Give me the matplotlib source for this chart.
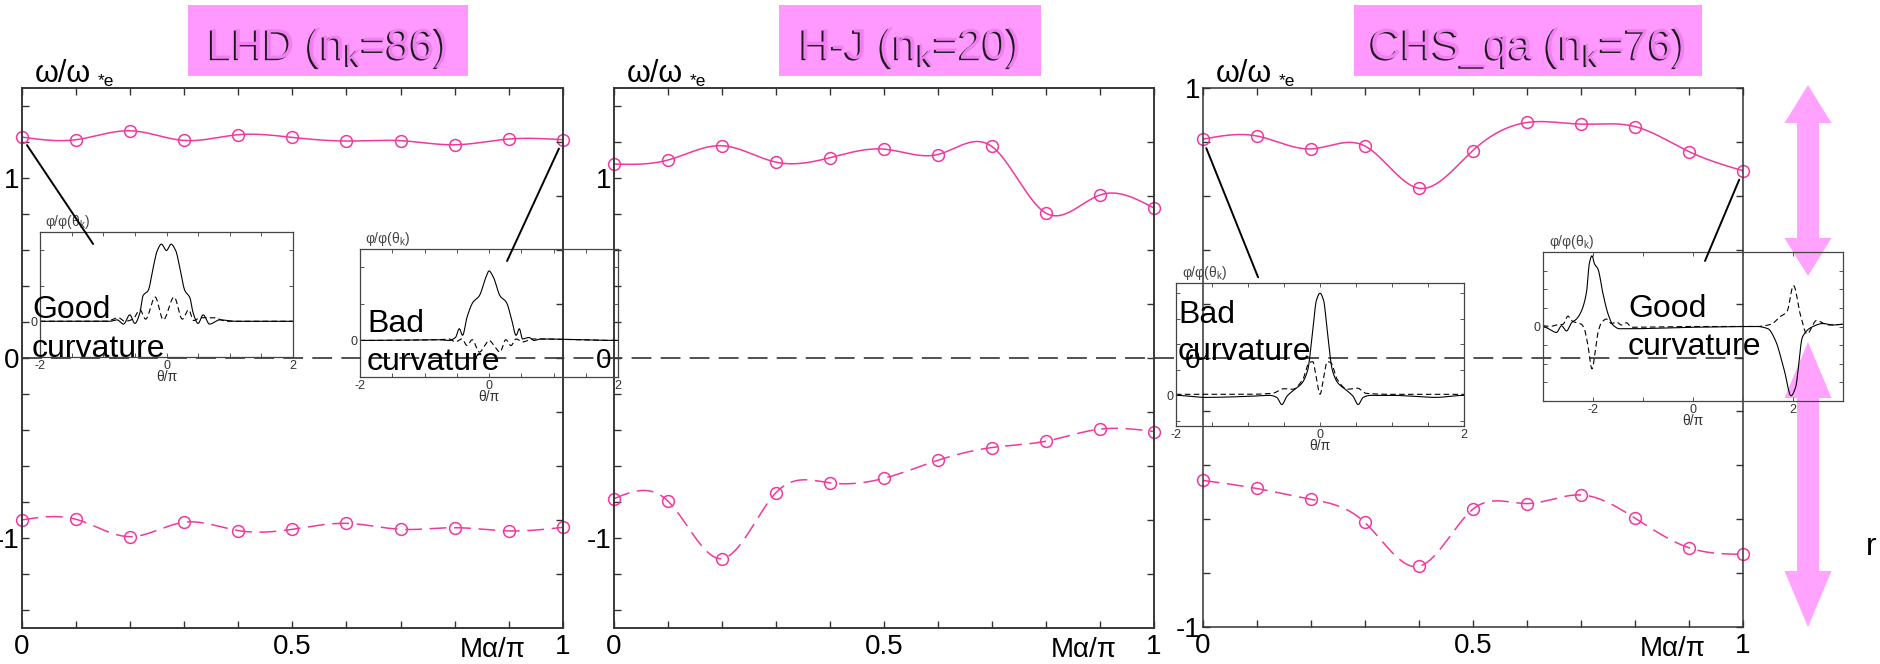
import numpy as np
import matplotlib
matplotlib.use('Agg')
import matplotlib.pyplot as plt
import matplotlib.patheffects as pe
from matplotlib.patches import Rectangle, Polygon, ConnectionPatch
from matplotlib.ticker import FixedLocator, FuncFormatter, NullFormatter

plt.rcParams['font.family'] = ['Liberation Sans', 'DejaVu Sans']
plt.rcParams['mathtext.default'] = 'regular'

# ---- main curves: omega / omega*e versus M alpha / pi ----
m_alpha = [0.0, 0.1, 0.2, 0.3, 0.4, 0.5, 0.6, 0.7, 0.8, 0.9, 1.0]

lhd_upper = [1.226, 1.211, 1.261, 1.207, 1.239, 1.224, 1.204, 1.206, 1.183, 1.215, 1.211]
lhd_lower = [-0.900, -0.896, -0.993, -0.913, -0.959, -0.952, -0.919, -0.952, -0.943, -0.961, -0.941]
hj_upper = [1.076, 1.098, 1.178, 1.087, 1.111, 1.159, 1.129, 1.174, 0.804, 0.904, 0.832]
hj_lower = [-0.783, -0.794, -1.115, -0.750, -0.694, -0.669, -0.569, -0.498, -0.463, -0.396, -0.409]
chs_upper = [0.810, 0.822, 0.774, 0.785, 0.628, 0.768, 0.872, 0.866, 0.857, 0.764, 0.693]
chs_lower = [-0.456, -0.486, -0.526, -0.612, -0.775, -0.563, -0.542, -0.510, -0.596, -0.706, -0.730]

titles = ['LHD (n$_k$=86)', 'H-J (n$_k$=20)', 'CHS_qa (n$_k$=76)']

# ---- inset eigenfunctions phi/phi(theta_k) versus theta/pi ----
lhd_good_th = [-2.0, -1.2, -0.9, -0.78, -0.68, -0.58, -0.5, -0.42, -0.37, -0.29, -0.21, -0.15, -0.08, 0.0,
               0.07, 0.15, 0.21, 0.29, 0.37, 0.42, 0.5, 0.58, 0.68, 0.84, 1.1, 2.0]
lhd_good_solid = [0.0, 0.0, 0.0, 0.02, -0.04, 0.09, -0.03, 0.12, 0.36, 0.43, 0.75, 0.98, 1.08, 0.99,
                  1.08, 0.98, 0.75, 0.43, 0.33, 0.12, -0.03, 0.09, -0.04, 0.02, 0.0, 0.0]
lhd_good_dth = [-2.0, -0.95, -0.76, -0.66, -0.53, -0.42, -0.33, -0.18, -0.05, 0.12, 0.25, 0.35, 0.43,
                0.53, 0.74, 0.95, 2.0]
lhd_good_dash = [0.0, 0.0, 0.05, 0.0, 0.03, 0.16, 0.03, 0.34, 0.02, 0.34, 0.03, 0.16, 0.01,
                 0.05, 0.05, 0.0, 0.0]

lhd_bad_th = [-2.0, -0.8, -0.62, -0.52, -0.46, -0.41, -0.34, -0.25, -0.15, -0.05, 0.0, 0.07, 0.17,
              0.27, 0.35, 0.42, 0.47, 0.52, 0.62, 0.7, 0.8, 2.0]
lhd_bad_solid = [0.0, 0.01, 0.0, 0.04, 0.16, 0.07, 0.32, 0.52, 0.61, 0.86, 0.95, 0.86, 0.61,
                 0.52, 0.29, 0.07, 0.16, 0.02, 0.04, 0.0, 0.02, 0.0]
lhd_bad_dth = [-2.0, -0.78, -0.62, -0.52, -0.42, -0.34, -0.26, -0.15, -0.05, 0.0, 0.08, 0.17, 0.26,
               0.34, 0.42, 0.52, 0.68, 2.0]
lhd_bad_dash = [0.0, 0.01, 0.02, -0.02, 0.02, -0.07, 0.01, -0.16, -0.05, 0.0, -0.07, -0.16, 0.01,
                -0.07, 0.02, -0.02, 0.02, 0.0]

chs_bad_th = [-2.0, -1.6, -1.0, -0.7, -0.6, -0.53, -0.46, -0.35, -0.25, -0.17, -0.1, -0.05, 0.0,
              0.05, 0.1, 0.17, 0.25, 0.35, 0.46, 0.53, 0.6, 0.7, 1.0, 1.6, 2.0]
chs_bad_solid = [0.0, -0.02, -0.01, 0.0, -0.02, -0.09, -0.01, 0.06, 0.12, 0.25, 0.64, 0.93, 1.0,
                 0.93, 0.64, 0.25, 0.12, 0.06, -0.01, -0.09, -0.02, 0.0, 0.0, -0.02, 0.0]
chs_bad_dth = [-2.0, -1.0, -0.66, -0.5, -0.38, -0.24, -0.15, -0.1, -0.055, 0.0, 0.055, 0.1, 0.15,
               0.24, 0.38, 0.52, 0.64, 1.0, 2.0]
chs_bad_dash = [0.01, 0.01, 0.02, 0.065, 0.06, 0.155, 0.32, 0.33, 0.19, 0.01, 0.19, 0.33, 0.32,
                0.155, 0.06, 0.07, 0.02, 0.01, 0.01]

chs_good_th = [-3.0, -2.89, -2.73, -2.63, -2.53, -2.43, -2.33, -2.23, -2.13, -2.07, -2.02, -1.97,
               -1.9, -1.8, -1.7, -1.6, -1.47, -1.27, 0.0, 1.28, 1.5, 1.65, 1.83, 1.96, 2.05, 2.19,
               2.37, 2.6, 2.8, 3.0]
chs_good_solid = [0.0, -0.03, -0.08, 0.01, -0.06, 0.05, 0.1, 0.21, 0.46, 0.86, 0.95, 0.84,
                  0.77, 0.44, 0.17, 0.02, -0.03, -0.03, -0.01, 0.0, -0.03, -0.19, -0.6, -0.93,
                  -0.82, -0.14, -0.01, 0.04, 0.02, 0.03]
chs_good_dth = [-3.0, -2.86, -2.73, -2.6, -2.5, -2.43, -2.33, -2.23, -2.17, -2.1, -2.02, -1.95,
                -1.9, -1.83, -1.73, -1.63, -1.53, -1.43, -1.33, -1.23, 0.0, 1.28, 1.56, 1.74,
                1.88, 2.01, 2.15, 2.28, 2.47, 2.7, 3.0]
chs_good_dash = [0.01, 0.0, 0.02, 0.03, 0.14, 0.08, 0.05, 0.03, -0.04, -0.26, -0.57, -0.31,
                 -0.08, 0.05, 0.1, 0.04, 0.06, 0.02, 0.05, -0.01, 0.0, 0.0, 0.03, 0.13,
                 0.2, 0.55, 0.15, -0.1, 0.08, 0.02, 0.03]

PINK = '#ef3a9c'
BOX = '#ff99ff'
W, H = 1880, 664


def rect(x0, y0, x1, y1):
    return [x0 / W, 1 - y1 / H, (x1 - x0) / W, (y1 - y0) / H]


def natural_spline(x, y, num=300):
    x = np.asarray(x, float)
    y = np.asarray(y, float)
    n = len(x)
    h = np.diff(x)
    A = np.zeros((n, n))
    b = np.zeros(n)
    A[0, 0] = A[-1, -1] = 1
    for i in range(1, n - 1):
        A[i, i - 1] = h[i - 1]
        A[i, i] = 2 * (h[i - 1] + h[i])
        A[i, i + 1] = h[i]
        b[i] = 6 * ((y[i + 1] - y[i]) / h[i] - (y[i] - y[i - 1]) / h[i - 1])
    M = np.linalg.solve(A, b)
    xs = np.linspace(x[0], x[-1], num)
    k = np.clip(np.searchsorted(x, xs) - 1, 0, n - 2)
    hh = x[k + 1] - x[k]
    t0 = x[k + 1] - xs
    t1 = xs - x[k]
    ys = ((M[k] * t0 ** 3 + M[k + 1] * t1 ** 3) / (6 * hh)
          + (y[k] / hh - M[k] * hh / 6) * t0 + (y[k + 1] / hh - M[k + 1] * hh / 6) * t1)
    return xs, ys


def pchip(x, y, num=500):
    x = np.asarray(x, float)
    y = np.asarray(y, float)
    n = len(x)
    h = np.diff(x)
    d = np.diff(y) / h
    m = np.zeros(n)
    for k in range(1, n - 1):
        if d[k - 1] * d[k] > 0:
            w1 = 2 * h[k] + h[k - 1]
            w2 = h[k] + 2 * h[k - 1]
            m[k] = (w1 + w2) / (w1 / d[k - 1] + w2 / d[k])
    xs = np.linspace(x[0], x[-1], num)
    k = np.clip(np.searchsorted(x, xs) - 1, 0, n - 2)
    t = (xs - x[k]) / h[k]
    ys = ((2 * t ** 3 - 3 * t ** 2 + 1) * y[k] + (t ** 3 - 2 * t ** 2 + t) * h[k] * m[k]
          + (-2 * t ** 3 + 3 * t ** 2) * y[k + 1] + (t ** 3 - t ** 2) * h[k] * m[k + 1])
    return xs, ys


fig = plt.figure(figsize=(18.8, 6.64), dpi=100)

# title boxes
title_boxes = [(188, 468), (779, 1041), (1354, 1702)]
for (bx0, bx1), title in zip(title_boxes, titles):
    fig.add_artist(Rectangle(((bx0) / W, 1 - 76 / H), (bx1 - bx0) / W, 71 / H,
                             transform=fig.transFigure, color=BOX, lw=0))
    fig.text((bx0 + bx1) / 2 / W, 1 - 59 / H, title, ha='center', va='baseline', fontsize=31,
             color='#f27ff2',
             path_effects=[pe.withSimplePatchShadow(offset=(-1.4, -1.0), shadow_rgbFace='#1a1a1a',
                                                    alpha=1.0)])

panels = [
    ((21.6, 87.7, 563, 628), (-1.5, 1.5), lhd_upper, lhd_lower),
    ((613.7, 87.7, 1153.8, 628), (-1.5, 1.5), hj_upper, hj_lower),
    ((1202.7, 88, 1743, 627), (-1.0, 1.0), chs_upper, chs_lower),
]


def xfmt(v, pos):
    return {0.0: '0', 0.5: '0.5', 1.0: '1'}.get(round(v, 2), '')


def yfmt(v, pos):
    return {1.0: '1', 0.0: '0', -1.0: '-1'}.get(round(v, 2), '')


axes = []
for i, (r, ylim, up, lo) in enumerate(panels):
    ax = fig.add_axes(rect(*r), facecolor='none')
    xs, ys = natural_spline(m_alpha, up)
    ax.plot(xs, ys, color=PINK, lw=1.1)
    ax.plot(m_alpha, up, 'o', mfc='none', mec=PINK, ms=8.5, mew=1.1, clip_on=False)
    xs, ys = natural_spline(m_alpha, lo)
    ax.plot(xs, ys, color=PINK, lw=1.1, dashes=(11, 5))
    ax.plot(m_alpha, lo, 'o', mfc='none', mec=PINK, ms=8.5, mew=1.1, clip_on=False)
    ax.set_xlim(0, 1)
    ax.set_ylim(*ylim)
    ax.xaxis.set_major_locator(FixedLocator(np.round(np.arange(0, 1.001, 0.1), 2)))
    ax.xaxis.set_major_formatter(FuncFormatter(xfmt))
    if i < 2:
        yt = np.round(np.arange(-1.4, 1.401, 0.2), 2)
    else:
        yt = np.round(np.arange(-1.0, 1.001, 0.2), 2)
    ax.yaxis.set_major_locator(FixedLocator(yt))
    ax.yaxis.set_major_formatter(FuncFormatter(yfmt))
    ax.tick_params(direction='in', length=5, width=1, colors='#333333', labelcolor='black',
                   labelsize=20, top=True, right=(i == 2))
    ax.tick_params(axis='x', pad=4)
    ax.tick_params(axis='y', pad=1.5)
    for s in ax.spines.values():
        s.set_linewidth(1.1)
        s.set_color('#333333')
    if i < 2:
        tw = ax.twinx()
        tw.set_ylim(*ylim)
        tw.yaxis.set_major_locator(FixedLocator(np.round(np.arange(-1.2, 1.201, 0.3), 2)))
        tw.yaxis.set_major_formatter(NullFormatter())
        tw.tick_params(direction='in', length=5, width=1, colors='#333333')
        for s in tw.spines.values():
            s.set_linewidth(1.1)
            s.set_color('#333333')
    ax.text(0.87, -0.0537, 'M\u03b1/\u03c0', transform=ax.transAxes, ha='center', va='baseline',
            fontsize=20)
    x0 = r[0]
    fig.text((x0 + 13) / W, 1 - 82 / H, '\u03c9/\u03c9', fontsize=22, va='baseline')
    fig.text((x0 + 76) / W, 1 - 86 / H, '*e', fontsize=12.5, va='baseline')
    axes.append(ax)

# zero reference line running across the panels
axes[0].plot([0, (1743 - 21.6) / 541.4], [0, 0], color='#222222', lw=1.1, dashes=(13, 6),
             clip_on=False, zorder=1)

# pink double arrows on the right


def double_arrow(xc, y0, y1, hl, hw, sw):
    pts = [(xc, y0), (xc + hw / 2, y0 + hl), (xc + sw / 2, y0 + hl), (xc + sw / 2, y1 - hl),
           (xc + hw / 2, y1 - hl), (xc, y1), (xc - hw / 2, y1 - hl), (xc - sw / 2, y1 - hl),
           (xc - sw / 2, y0 + hl), (xc - hw / 2, y0 + hl)]
    pts = [(px / W, 1 - py / H) for px, py in pts]
    fig.add_artist(Polygon(pts, closed=True, transform=fig.transFigure, color=BOX, lw=0,
                           alpha=0.9, zorder=4))


double_arrow(1808, 85, 276, 38, 47, 22)
double_arrow(1808, 342, 627, 56, 47, 22)
fig.text(1866 / W, 1 - 555 / H, 'r', fontsize=23, va='baseline')

# insets
insets = [
    ((40, 232, 293, 357), (-2, 2), (-0.5, 1.25), 0.5, 0.5,
     lhd_good_th, lhd_good_solid, lhd_good_dth, lhd_good_dash, ('Good', 'curvature'), (32, 318, 357)),
    ((360, 249, 618, 377), (-2, 2), (-0.5, 1.25), 0.5, 0.5,
     lhd_bad_th, lhd_bad_solid, lhd_bad_dth, lhd_bad_dash, ('Bad', 'curvature'), (367, 332, 370)),
    ((1176, 283, 1464, 426), (-2, 2), (-0.3, 1.1), 0.5, 0.25,
     chs_bad_th, chs_bad_solid, chs_bad_dth, chs_bad_dash, ('Bad', 'curvature'), (1178, 323, 360)),
    ((1543, 252, 1843, 401), (-3, 3), (-1.0, 1.0), 1.0, 0.25,
     chs_good_th, chs_good_solid, chs_good_dth, chs_good_dash, ('Good', 'curvature'), (1628, 317, 355)),
]

ins_axes = []
for r, xl, yl, xstep, ystep, th, sv, dth, dv, words, tpos in insets:
    ia = fig.add_axes(rect(*r), facecolor='none', zorder=5)
    xs, ys = pchip(th, sv)
    ia.plot(xs, ys, color='black', lw=0.8)
    xs, ys = pchip(dth, dv)
    ia.plot(xs, ys, color='black', lw=0.8, dashes=(5, 3))
    ia.set_xlim(*xl)
    ia.set_ylim(*yl)
    ia.xaxis.set_major_locator(FixedLocator(np.round(np.arange(xl[0], xl[1] + 1e-6, xstep), 2)))
    ia.xaxis.set_major_formatter(FuncFormatter(
        lambda v, p: {-2.0: '-2', 0.0: '0', 2.0: '2'}.get(round(v, 2), '')))
    ia.yaxis.set_major_locator(FixedLocator(np.round(np.arange(-1.0, 1.26, ystep), 2)))
    ia.yaxis.set_major_formatter(FuncFormatter(lambda v, p: '0' if abs(v) < 1e-9 else ''))
    ia.tick_params(direction='in', length=3, width=0.7, top=True, right=True, labelsize=9,
                   colors='#555555', labelcolor='#333333', pad=2)
    for s in ia.spines.values():
        s.set_linewidth(0.9)
        s.set_color('#444444')
    ia.set_xlabel('\u03b8/\u03c0', fontsize=10, labelpad=-1, color='#333333')
    ia.text(0.02, 1.01, '\u03c6/\u03c6(\u03b8$_k$)', transform=ia.transAxes, fontsize=10,
            va='bottom', ha='left', color='#444444')
    fig.text(tpos[0] / W, 1 - tpos[1] / H, words[0], fontsize=23, va='baseline', zorder=6)
    fig.text(tpos[0] / W, 1 - tpos[2] / H, words[1], fontsize=23, va='baseline', zorder=6)
    ins_axes.append(ia)

# leader lines from the end points to their eigenfunction insets
links = [
    (axes[0], (0.0, lhd_upper[0]), ins_axes[0], (0.21, 0.904)),
    (axes[0], (1.0, lhd_upper[-1]), ins_axes[1], (0.57, 0.906)),
    (axes[2], (0.0, chs_upper[0]), ins_axes[2], (0.285, 1.04)),
    (axes[2], (1.0, chs_upper[-1]), ins_axes[3], (0.54, 0.94)),
]
for ax, pa, ia, pb in links:
    con = ConnectionPatch(xyA=pa, coordsA=ax.transData, xyB=pb, coordsB=ia.transAxes,
                          color='black', lw=1.4, shrinkA=7, shrinkB=0)
    con.set_zorder(6)
    fig.add_artist(con)

fig.savefig('out.png', dpi=100, facecolor='white')
